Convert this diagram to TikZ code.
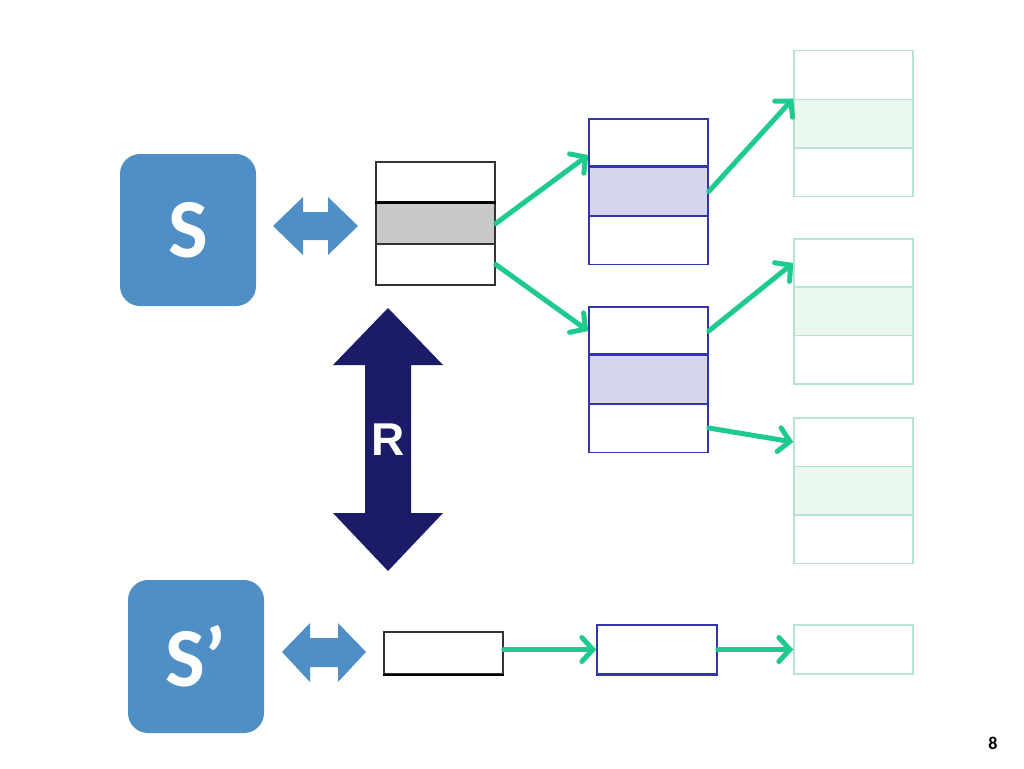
\documentclass[tikz,border=0pt]{standalone}
\usepackage{fontspec}
\newfontfamily\calfont{Carlito}
\newfontfamily\arialfont{Liberation Sans}
\usetikzlibrary{arrows.meta}
\definecolor{sblue}{RGB}{79,143,197}
\definecolor{rnavy}{RGB}{27,27,104}
\definecolor{lnkgreen}{RGB}{30,202,142}
\definecolor{idxblue}{RGB}{52,52,172}
\definecolor{idxfill}{RGB}{213,213,240}
\definecolor{leafline}{RGB}{182,228,210}
\definecolor{leaffill}{RGB}{234,248,240}
\definecolor{rootfill}{RGB}{200,200,200}
\tikzset{
  cell/.style={rectangle,inner sep=0pt,minimum width=119pt},
  rootcell/.style={cell,draw=black!80,line width=1.5pt,minimum height=41pt},
  idxcell/.style={cell,draw=idxblue,line width=1.5pt,minimum height=48.5pt},
  leafcell/.style={cell,draw=leafline,line width=1.5pt,minimum height=48.5pt},
  sbox/.style={rectangle,rounded corners=20pt,fill=sblue,text=white,
    minimum width=136pt,font=\calfont\bfseries\fontsize{84}{86}\selectfont},
  link/.style={draw=lnkgreen,line width=5pt,line cap=round,
    -{Straight Barb[length=11pt,width=24pt,line cap=round]}}
}
\begin{document}
\begin{tikzpicture}[x=1pt,y=-1pt]
\useasboundingbox (0,0) rectangle (1024,768);
% S and S'
\node[sbox,minimum height=152pt] (s) at (188,230) {S};
\node[sbox,minimum height=153pt] (s2) at (196,656.5) {S’};
\fill[sblue] (273,226) -- (303,197) -- (303,212) -- (328,212) -- (328,197) -- (358,226)
  -- (328,255) -- (328,240) -- (303,240) -- (303,255) -- cycle;
\fill[sblue] (282,652) -- (310,623) -- (310,638) -- (338,638) -- (338,623) -- (366,652)
  -- (338,682) -- (338,667) -- (310,667) -- (310,682) -- cycle;
% R
\fill[rnavy] (388,308) -- (443,365) -- (411,365) -- (411,513) -- (443,513) -- (388,571)
  -- (333,513) -- (365,513) -- (365,365) -- (333,365) -- cycle;
\node[text=white,font=\arialfont\bfseries\fontsize{46}{48}\selectfont] (r) at (388,440) {R};
% root
\node[rootcell] (ra) at (435.5,182.5) {};
\node[rootcell] (rc) at (435.5,264.5) {};
\node[rootcell,fill=rootfill] (rb) at (435.5,223.5) {};
\draw[line width=2.5pt] (rb.north west) -- (rb.north east);
% index nodes
\node[idxcell] (aa) at (648.5,143) {};
\node[idxcell] (ac) at (648.5,240) {};
\node[idxcell,fill=idxfill] (ab) at (648.5,191.5) {};
\draw[idxblue,line width=2.5pt] (ab.north west) -- (ab.north east);
\node[idxcell] (ba) at (648.5,331) {};
\node[idxcell] (bc) at (648.5,428) {};
\node[idxcell,fill=idxfill] (bb) at (648.5,379.5) {};
\draw[idxblue,line width=2.5pt] (bb.north west) -- (bb.north east);
% leaves
\node[leafcell] (ca) at (853.5,75) {};
\node[leafcell] (cc) at (853.5,172) {};
\node[leafcell,fill=leaffill] (cb) at (853.5,123.5) {};
\node[leafcell] (da) at (853.5,263) {};
\node[leafcell] (dc) at (853.5,359.5) {};
\node[leafcell,fill=leaffill] (db) at (853.5,311) {};
\node[leafcell] (ea) at (853.5,442) {};
\node[leafcell] (ec) at (853.5,539) {};
\node[leafcell,fill=leaffill] (eb) at (853.5,490.5) {};
% bottom row
\node[rootcell,minimum height=42pt] (k) at (443.5,653) {};
\draw[line width=2.5pt] (k.south west) -- (k.south east);
\node[idxcell,minimum width=120pt,minimum height=49pt] (p) at (657,649.5) {};
\draw[idxblue,line width=2.5pt] (p.south west) -- (p.south east);
\node[leafcell,minimum height=49pt] (q) at (853.5,649.5) {};
% links
\draw[link] (rb.east) -- ([yshift=-12pt]aa.west);
\draw[link] (rc.east) -- (ba.west);
\draw[link] (ab.east) -- (cb.north west);
\draw[link] (ba.east) -- (da.west);
\draw[link] (bc.east) -- (ea.west);
\draw[link] (p.west -| k.east) -- (p.west);
\draw[link] (p.east) -- (q.west);
\node[font=\calfont\bfseries\fontsize{18}{20}\selectfont] (pg) at (993,743) {8};
\end{tikzpicture}
\end{document}
